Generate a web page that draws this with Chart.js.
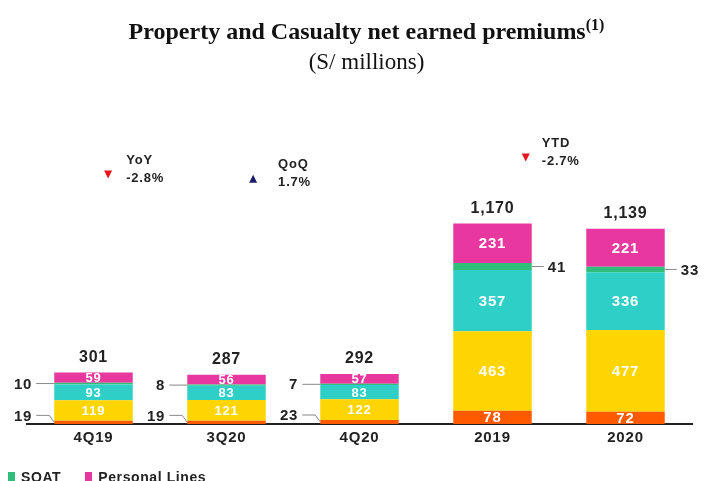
<!DOCTYPE html>
<html>
<head>
<meta charset="utf-8">
<script src="https://cdn.jsdelivr.net/npm/chart.js@4"></script>
<style>
  body { margin: 0; background: #fff; overflow: hidden; }
  #wrap { position: relative; width: 709px; height: 481px; }
  #chart { position: absolute; left: 0; top: 0; }
  #title { position: absolute; left: 12px; top: 17px; width: 709px; text-align: center;
           font-family: "Liberation Serif", "Times New Roman", serif; color: #111; }
  #title .main { font-size: 24px; font-weight: bold; line-height: 29px; }
  #title .main sup { font-size: 16px; line-height: 0; }
  #title .sub { font-size: 23px; line-height: 31px; }
  #legend { position: absolute; left: 8px; top: 469px; display: flex; letter-spacing: 0.6px;
            font: bold 14px "Liberation Sans", Arial, sans-serif; color: #222; }
  #legend span.item { display: flex; align-items: center; margin-right: 24px; }
  #legend i { display: inline-block; width: 7px; height: 11px; margin-right: 6px; }
</style>
</head>
<body>
<div id="wrap">
  <canvas id="chart" width="709" height="481"></canvas>
  <div id="title">
    <div class="main">Property and Casualty net earned premiums<sup>(1)</sup></div>
    <div class="sub">(S/ millions)</div>
  </div>
  <div id="legend"></div>
</div>
<script>
// ========== DATA ==========
const categories = ['4Q19', '3Q20', '4Q20', '2019', '2020'];
const other = [19, 19, 23, 78, 72];
const commercial = [119, 121, 122, 463, 477];
const cars = [93, 83, 83, 357, 336];
const soat = [10, 8, 7, 41, 33];
const personal = [59, 56, 57, 231, 221];
const totals = [301, 287, 292, 1170, 1139];   // as printed (rounded)

// variation notes above the bars
const noteLabels = ['YoY', 'QoQ', 'YTD'];
const noteValues = ['-2.8%', '1.7%', '-2.7%'];
const noteUp = [false, true, false];

const series = [
  { label: 'Others', data: other, color: '#FF5A00' },
  { label: 'Commercial Lines', data: commercial, color: '#FFD500' },
  { label: 'Cars', data: cars, color: '#2ECFC6' },
  { label: 'SOAT', data: soat, color: '#2FBF7A' },
  { label: 'Personal Lines', data: personal, color: '#E8389F' }
];
const legendShown = ['SOAT', 'Personal Lines'];

const FONT = '"Liberation Sans", Arial, sans-serif';

// ========== PLUGIN: value labels, leader lines, totals, notes ==========
const valueLabels = {
  id: 'valueLabels',
  beforeDraw(chart) {
    chart.ctx.letterSpacing = '0.8px';
  },
  afterDatasetsDraw(chart) {
    const ctx = chart.ctx;
    ctx.save();
    ctx.letterSpacing = '0.8px';
    ctx.textBaseline = 'middle';
    chart.data.datasets.forEach((ds, di) => {
      const meta = chart.getDatasetMeta(di);
      meta.data.forEach((bar, i) => {
        const top = Math.min(bar.y, bar.base);
        const bottom = Math.max(bar.y, bar.base);
        const h = bottom - top;
        const cy = (top + bottom) / 2;
        const left = bar.x - bar.width / 2;
        const right = bar.x + bar.width / 2;
        const txt = String(ds.data[i]);
        if (h >= 8) {
          ctx.font = 'bold ' + (i < 3 ? 13 : 15) + 'px ' + FONT;
          ctx.fillStyle = '#fff';
          ctx.textAlign = 'center';
          ctx.fillText(txt, bar.x, cy + 1);
          return;
        }
        ctx.font = 'bold 15px ' + FONT;
        ctx.strokeStyle = '#888';
        ctx.lineWidth = 1;
        ctx.fillStyle = '#222';
        if (i < 3) {
          const ly = di === 0 ? cy - 7 : cy;
          ctx.beginPath();
          ctx.moveTo(left - 18, ly);
          ctx.lineTo(left - 5, ly);
          ctx.lineTo(left, cy);
          ctx.stroke();
          ctx.textAlign = 'right';
          ctx.fillText(txt, left - 22, ly + 1);
        } else {
          ctx.beginPath();
          ctx.moveTo(right, cy);
          ctx.lineTo(right + 12, cy);
          ctx.stroke();
          ctx.textAlign = 'left';
          ctx.fillText(txt, right + 16, cy + 1);
        }
      });
    });

    // totals above stacks
    const yScale = chart.scales.y;
    const xScale = chart.scales.x;
    ctx.font = 'bold 16px ' + FONT;
    ctx.fillStyle = '#222';
    ctx.textAlign = 'center';
    totals.forEach((t, i) => {
      ctx.fillText(t.toLocaleString('en-US'), xScale.getPixelForValue(i), yScale.getPixelForValue(t) - 15);
    });

    // variation notes
    const noteCat = [0.11, 1.2, 3.25];
    const noteY = [1455, 1430, 1555];
    const textDx = [18, 25, 16];
    ctx.font = 'bold 13px ' + FONT;
    noteLabels.forEach((lab, k) => {
      const tx = xScale.getPixelForValue(noteCat[k]);
      const ty = yScale.getPixelForValue(noteY[k]);
      ctx.fillStyle = noteUp[k] ? '#1C1C6B' : '#E8141B';
      ctx.beginPath();
      if (noteUp[k]) {
        ctx.moveTo(tx - 4, ty + 4); ctx.lineTo(tx + 4, ty + 4); ctx.lineTo(tx, ty - 4);
      } else {
        ctx.moveTo(tx - 4, ty - 4); ctx.lineTo(tx + 4, ty - 4); ctx.lineTo(tx, ty + 4);
      }
      ctx.closePath();
      ctx.fill();
      ctx.fillStyle = '#222';
      ctx.textAlign = 'left';
      ctx.fillText(lab, tx + textDx[k], ty - 14);
      ctx.fillText(noteValues[k], tx + textDx[k], ty + 4);
    });
    ctx.restore();
  }
};

// ========== STACKED BAR CHART ==========
const pcChart = new Chart(document.getElementById('chart'), {
  type: 'bar',
  data: {
    labels: categories,
    datasets: series.map(s => ({
      label: s.label,
      data: s.data,
      backgroundColor: s.color,
      borderWidth: 0,
      barPercentage: 0.59,
      categoryPercentage: 1
    }))
  },
  options: {
    responsive: false,
    animation: false,
    layout: { padding: { left: 27, right: 17, top: 184, bottom: 29 } },
    plugins: {
      legend: { display: false },
      tooltip: { enabled: false }
    },
    scales: {
      x: {
        stacked: true,
        grid: { display: false, drawTicks: false },
        border: { display: true, color: '#222', width: 2 },
        ticks: { color: '#222', padding: 5, font: { family: FONT, size: 15, weight: 'bold' } }
      },
      y: {
        stacked: true,
        display: false,
        min: 0,
        max: 1400
      }
    }
  },
  plugins: [valueLabels]
});

// ========== LEGEND (only the visible row) ==========
const legendEl = document.getElementById('legend');
pcChart.data.datasets.filter(d => legendShown.includes(d.label)).forEach(d => {
  const item = document.createElement('span');
  item.className = 'item';
  item.innerHTML = '<i style="background:' + d.backgroundColor + '"></i>' + d.label;
  legendEl.appendChild(item);
});
</script>
</body>
</html>
